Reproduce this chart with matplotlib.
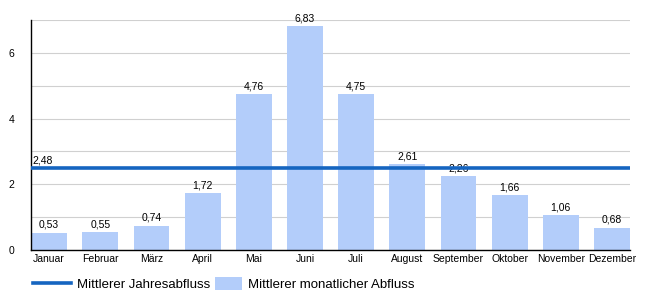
import matplotlib
matplotlib.use("Agg")
import matplotlib.pyplot as plt
import numpy as np

# Monatsnamen und mittlerer monatlicher Abfluss
months = ["Januar", "Februar", "März", "April", "Mai", "Juni", "Juli",
          "August", "September", "Oktober", "November", "Dezember"]
monthly_flow = [0.53, 0.55, 0.74, 1.72, 4.76, 6.83, 4.75,
                2.61, 2.26, 1.66, 1.06, 0.68]
annual_flow = 2.48

plt.rcParams['font.family'] = ['Liberation Sans', 'DejaVu Sans']

fig = plt.figure(figsize=(6.5, 3), dpi=100)
ax = fig.add_axes([0.048, 0.167, 0.921, 0.766])

x = np.arange(len(months))
bar_w = 0.7
bars = ax.bar(x, monthly_flow, width=bar_w, color="#b3cdfa", zorder=2,
              label="Mittlerer monatlicher Abfluss")
line = ax.axhline(annual_flow, color="#1565c0", linewidth=2.6, zorder=3,
                  label="Mittlerer Jahresabfluss")

# Werte ueber den Balken
for xi, v in zip(x, monthly_flow):
    ax.text(xi, v + 0.08, f"{v:.2f}".replace(".", ","), ha="center",
            va="bottom", fontsize=7.5, zorder=2)
ax.text(-0.35 + 0.02, annual_flow + 0.1, f"{annual_flow:.2f}".replace(".", ","),
        ha="left", va="bottom", fontsize=7.5)

ax.set_xlim(-bar_w / 2, len(months) - 1 + bar_w / 2)
ax.set_ylim(0, 7)
ax.set_xticks(x)
ax.set_xticklabels(months, fontsize=7.5)
ax.set_yticks([0, 2, 4, 6])
ax.set_yticks(np.arange(0, 8, 1), minor=True)
ax.tick_params(axis="y", labelsize=7.5, length=0, which="both", pad=12)
ax.tick_params(axis="x", length=0, pad=3)
ax.grid(axis="y", which="both", color="#d0d0d0", linewidth=0.8, zorder=0)
ax.set_axisbelow(True)
for s in ["top", "right"]:
    ax.spines[s].set_visible(False)
ax.spines["left"].set_linewidth(1)
ax.spines["bottom"].set_linewidth(1)

# zwei Legenden nebeneinander (unterschiedliche Symbolbreite)
leg_kw = dict(loc="center left", frameon=False, fontsize=9.5,
              handletextpad=0.5, borderpad=0, borderaxespad=0)
fig.legend(handles=[line], bbox_to_anchor=(0.05, 0.052),
           handlelength=2.9, **leg_kw)
fig.legend(handles=[bars], bbox_to_anchor=(0.331, 0.052),
           handlelength=2.0, handleheight=1.1, **leg_kw)

fig.savefig("out.png", dpi=100)
